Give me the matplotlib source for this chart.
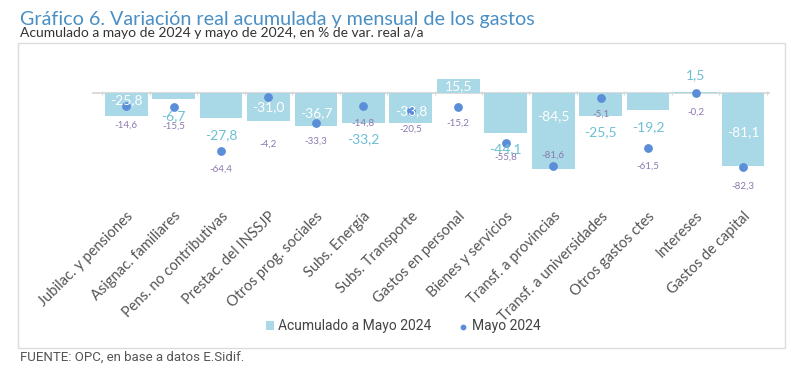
import matplotlib
matplotlib.use("Agg")
import matplotlib.pyplot as plt
from matplotlib.patches import Rectangle
import numpy as np

categories = ["Jubilac. y pensiones", "Asignac. familiares", "Pens. no contributivas",
              "Prestac. del INSSJP", "Otros prog. sociales", "Subs. Energía",
              "Subs. Transporte", "Gastos en personal", "Bienes y servicios",
              "Transf. a provincias", "Transf. a universidades", "Otros gastos ctes",
              "Intereses", "Gastos de capital"]
acumulado = [-25.8, -6.7, -27.8, -31.0, -36.7, -33.2, -33.8, 15.5, -44.1, -84.5, -25.5, -19.2, 1.5, -81.1]
mayo = [-14.6, -15.5, -64.4, -4.2, -33.3, -14.8, -20.5, -15.2, -55.8, -81.6, -5.1, -61.5, -0.2, -82.3]

# label styling per bar (True = white label inside the bar)
lbl_inside = [True, False, False, True, True, False, True, True, False, True, False, False, False, True]
# where inside labels sit along the bar (fraction of bar length)
lbl_frac = [0.3, 0, 0, 0.5, 0.6, 0, 0.6, 0.5, 0, 0.3, 0, 0, 0, 0.53]
# vertical offset (points) of the point labels
pt_off = [-14, -14, -13, -34, -13, -12, -13, -12, -10, 8, -12, -13, -14, -14]

BAR = "#a9d8e6"
DOT = "#5b8ed8"
OUT_LBL = "#6cc0d4"
PT_LBL = "#8c78b0"

fig = plt.figure(figsize=(8, 3.67), dpi=100)
box = Rectangle((18 / 800, 1 - 348 / 367), (785 - 18) / 800, (348 - 43) / 367,
                transform=fig.transFigure, facecolor="white",
                edgecolor="#dcdcdc", linewidth=1.0, zorder=-5)
fig.patches.append(box)

fig.text(20 / 800, 1 - 19 / 367, "Gráfico 6. Variación real acumulada y mensual de los gastos",
         fontsize=14.2, color="#4a8fc4", family="Lato", va="center")
fig.text(20 / 800, 1 - 33 / 367, "Acumulado a mayo de 2024 y mayo de 2024, en % de var. real a/a",
         fontsize=10, color="#333333", family="Lato", va="center")
fig.text(20 / 800, 1 - 357 / 367, "FUENTE: OPC, en base a datos E.Sidif.",
         fontsize=9.5, color="#555555", family="Roboto", va="center")

ax = fig.add_axes([92 / 800, 1 - 178.5 / 367, 678 / 800, 103.5 / 367])
ax.patch.set_alpha(0)
x = np.arange(len(categories))
bars = ax.bar(x, acumulado, width=0.9, color=BAR, zorder=2)
dots = ax.scatter(x, mayo, s=28, color=DOT, zorder=4)

ax.set_xlim(-0.72, len(categories) - 1 + 0.57)
ax.set_ylim(-95, 20)

# zero line with small category-boundary ticks
ax.axhline(0, color="#d4d4d4", linewidth=1.2, zorder=1)
ax.vlines(np.arange(len(categories) + 1) - 0.5, -2.2, 2.2, color="#dadada",
          linewidth=0.8, zorder=1)

for i, (v, inside, fr) in enumerate(zip(acumulado, lbl_inside, lbl_frac)):
    txt = f"{v:.1f}".replace(".", ",")
    if inside:
        ax.text(i, v * fr, txt, ha="center", va="center", color="white",
                fontsize=10, family="Lato", zorder=5)
    else:
        off = 12 if v > 0 else -12
        ax.annotate(txt, (i, v), xytext=(0, off), textcoords="offset points",
                    ha="center", va="center", color=OUT_LBL, fontsize=10,
                    family="Lato", zorder=5)

for i, (v, off) in enumerate(zip(mayo, pt_off)):
    ax.annotate(f"{v:.1f}".replace(".", ","), (i, v), xytext=(0, off),
                textcoords="offset points", ha="center", va="center",
                color=PT_LBL, fontsize=7, family="Lato", zorder=5)

for s in ax.spines.values():
    s.set_visible(False)
ax.set_yticks([])
ax.set_xticks(x)
ax.tick_params(axis="x", length=0, pad=22)
ax.set_xticklabels(categories, rotation=45, ha="right", rotation_mode="anchor",
                   fontsize=10.5, color="#555555", family="Lato")

fig.legend([bars, dots], ["Acumulado a Mayo 2024", "Mayo 2024"], loc="center",
           bbox_to_anchor=(403 / 800, 1 - 326 / 367), ncol=2, frameon=False,
           prop={"family": "Roboto", "size": 10},
           handlelength=0.6, handleheight=0.6, handletextpad=0.3, columnspacing=2.0,
           markerscale=0.6, labelcolor="#444444")

fig.savefig("out.png", dpi=100)
